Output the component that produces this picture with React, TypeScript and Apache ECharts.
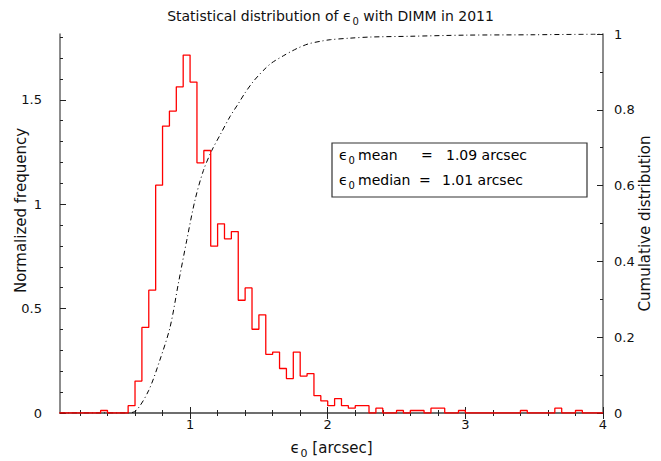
import React, { useEffect, useRef } from "react";
import * as echarts from "echarts";

// Histogram bin edges (arcsec) and normalized frequency of each bin
const binEdges = [
  0.05, 0.1, 0.15, 0.2, 0.25, 0.3, 0.35, 0.4, 0.45, 0.5,
  0.55, 0.6, 0.65, 0.7, 0.75, 0.8, 0.85, 0.9, 0.95, 1.0,
  1.05, 1.1, 1.15, 1.2, 1.25, 1.3, 1.35, 1.4, 1.45, 1.5,
  1.55, 1.6, 1.65, 1.7, 1.75, 1.8, 1.85, 1.9, 1.95, 2.0,
  2.05, 2.1, 2.15, 2.2, 2.25, 2.3, 2.35, 2.4, 2.45, 2.5,
  2.55, 2.6, 2.65, 2.7, 2.75, 2.8, 2.85, 2.9, 2.95, 3.0,
  3.05, 3.1, 3.15, 3.2, 3.25, 3.3, 3.35, 3.4, 3.45, 3.5,
  3.55, 3.6, 3.65, 3.7, 3.75, 3.8, 3.85, 3.9, 3.95, 4.0,
];
const frequency = [
  0, 0, 0, 0, 0, 0, 0.012, 0, 0, 0,
  0.035, 0.153, 0.41, 0.588, 1.091, 1.374, 1.446, 1.562, 1.714, 1.585,
  1.198, 1.257, 0.799, 0.906, 0.834, 0.869, 0.54, 0.599, 0.401, 0.47,
  0.281, 0.292, 0.213, 0.165, 0.292, 0.177, 0.189, 0.083, 0.058, 0.035,
  0.069, 0.035, 0.023, 0.035, 0.035, 0, 0.023, 0, 0, 0.012,
  0, 0.012, 0.012, 0, 0.023, 0.023, 0, 0, 0.012, 0,
  0, 0, 0, 0, 0, 0, 0, 0.012, 0, 0,
  0, 0, 0.023, 0, 0, 0.012, 0, 0, 0,
];

// Cumulative distribution (right axis)
const cumX = [
  0.055, 0.55, 0.61, 0.7, 0.78, 0.855, 0.915, 0.976, 1.036, 1.097,
  1.157, 1.22, 1.29, 1.35, 1.4, 1.46, 1.53, 1.59, 1.68, 1.74,
  1.79, 1.86, 1.95, 2.02, 2.16, 2.31, 2.6, 3.0, 3.5, 4.0,
];
const cumY = [
  0, 0, 0.007, 0.06, 0.139, 0.227, 0.342, 0.456, 0.562, 0.64,
  0.692, 0.735, 0.782, 0.816, 0.845, 0.875, 0.903, 0.923, 0.943, 0.955,
  0.964, 0.974, 0.981, 0.985, 0.989, 0.992, 0.994, 0.997, 0.998, 1.0,
];

// Ticks
const xMajor = [1, 2, 3, 4];
const xMinor = [0.2, 0.4, 0.6, 0.8, 1.2, 1.4, 1.6, 1.8, 2.2, 2.4, 2.6, 2.8, 3.2, 3.4, 3.6, 3.8];
const yFreqMajor = [0, 0.5, 1, 1.5];
const yFreqMinor = [0.1, 0.2, 0.3, 0.4, 0.6, 0.7, 0.8, 0.9, 1.1, 1.2, 1.3, 1.4, 1.6, 1.7, 1.8];
const yCumMajor = [0, 0.2, 0.4, 0.6, 0.8, 1];
const yCumMinor = [0.1, 0.3, 0.5, 0.7, 0.9];

const meanText = "1.09 arcsec";
const medianText = "1.01 arcsec";

const X_MIN = 0.055;
const X_MAX = 4;
const Y_MAX = 1.815;

const FONT = "DejaVu Sans, Liberation Sans, sans-serif";
const TEXT = "#111";
const AXIS = "#666";

function rich(fs: number, sub: number, drop: number) {
  return {
    t: { fontSize: fs, fontFamily: FONT, fontWeight: "normal", color: TEXT, verticalAlign: "top", lineHeight: fs + 2 },
    s: {
      fontSize: sub,
      fontFamily: FONT,
      fontWeight: "normal",
      color: TEXT,
      verticalAlign: "top",
      lineHeight: sub + 1,
      padding: [drop, 0, 0, 1],
    },
  };
}

export default function App() {
  const ref = useRef<HTMLDivElement>(null);

  useEffect(() => {
    if (!ref.current) return;
    const chart = echarts.init(ref.current, null, { renderer: "svg" });

    const histData: number[][] = binEdges.map((e, i) => [
      e,
      i < frequency.length ? frequency[i] : frequency[frequency.length - 1],
    ]);
    const cumData: number[][] = cumX.map((x, i) => [x, cumY[i]]);

    const labelStyle = { color: TEXT, fontSize: 13, fontFamily: FONT };

    const xBase = (position: string) => ({
      type: "value",
      min: X_MIN,
      max: X_MAX,
      position,
      splitLine: { show: false },
    });

    const option: any = {
      animation: false,
      backgroundColor: "#fff",
      title: {
        text: "{t|Statistical distribution of ϵ}{s|0}{t| with DIMM in 2011}",
        left: "center",
        top: 4,
        textStyle: { fontWeight: "normal", rich: rich(14, 10, 7) },
      },
      grid: { left: 60, right: 58, top: 34, bottom: 48, containLabel: false, outerBoundsMode: "none" },
      xAxis: [
        {
          ...xBase("bottom"),
          axisLine: { show: true, lineStyle: { color: AXIS, width: 1.5 } },
          axisTick: { show: true, inside: true, length: 6, customValues: xMajor, lineStyle: { color: "#222" } },
          axisLabel: { show: true, customValues: xMajor, margin: 5, ...labelStyle },
          name: "{t|ϵ}{s|0}{t| [arcsec]}",
          nameLocation: "middle",
          nameGap: 27,
          nameMoveOverlap: false,
          nameTextStyle: { rich: rich(15, 11, 8) },
        },
        {
          ...xBase("bottom"),
          axisLine: { show: false },
          axisTick: { show: true, inside: true, length: 3, customValues: xMinor, lineStyle: { color: "#222" } },
          axisLabel: { show: false },
        },
        {
          ...xBase("top"),
          axisLine: { show: true, lineStyle: { color: AXIS, width: 1.5 } },
          axisTick: { show: true, inside: true, length: 6, customValues: xMajor, lineStyle: { color: "#222" } },
          axisLabel: { show: false },
        },
        {
          ...xBase("top"),
          axisLine: { show: false },
          axisTick: { show: true, inside: true, length: 3, customValues: xMinor, lineStyle: { color: "#222" } },
          axisLabel: { show: false },
        },
      ],
      yAxis: [
        {
          type: "value",
          min: 0,
          max: Y_MAX,
          position: "left",
          splitLine: { show: false },
          axisLine: { show: true, lineStyle: { color: AXIS, width: 1.5 } },
          axisTick: { show: true, inside: true, length: 6, customValues: yFreqMajor, lineStyle: { color: "#222" } },
          axisLabel: { show: true, customValues: yFreqMajor, margin: 18, ...labelStyle },
          name: "Normalized frequency",
          nameLocation: "middle",
          nameGap: 32,
          nameRotate: 90,
          nameMoveOverlap: false,
          nameTextStyle: { color: TEXT, fontSize: 15, fontFamily: FONT, padding: [0, 0, 0, 26] },
        },
        {
          type: "value",
          min: 0,
          max: Y_MAX,
          position: "left",
          splitLine: { show: false },
          axisLine: { show: false },
          axisTick: { show: true, inside: true, length: 3, customValues: yFreqMinor, lineStyle: { color: "#222" } },
          axisLabel: { show: false },
        },
        {
          type: "value",
          min: 0,
          max: 1,
          position: "right",
          splitLine: { show: false },
          axisLine: { show: true, lineStyle: { color: AXIS, width: 1.5 } },
          axisTick: { show: true, inside: true, length: 6, customValues: yCumMajor, lineStyle: { color: "#222" } },
          axisLabel: { show: true, customValues: yCumMajor, margin: 11, ...labelStyle },
          name: "Cumulative distribution",
          nameLocation: "middle",
          nameGap: 34,
          nameRotate: 90,
          nameMoveOverlap: false,
          nameTextStyle: { color: TEXT, fontSize: 15, fontFamily: FONT },
        },
        {
          type: "value",
          min: 0,
          max: 1,
          position: "right",
          splitLine: { show: false },
          axisLine: { show: false },
          axisTick: { show: true, inside: true, length: 3, customValues: yCumMinor, lineStyle: { color: "#222" } },
          axisLabel: { show: false },
        },
      ],
      series: [
        {
          name: "Normalized frequency",
          type: "line",
          xAxisIndex: 0,
          yAxisIndex: 0,
          step: "end",
          data: histData,
          showSymbol: false,
          lineStyle: { color: "#ff0000", width: 1.3 },
          z: 3,
        },
        {
          name: "Cumulative distribution",
          type: "line",
          xAxisIndex: 0,
          yAxisIndex: 2,
          data: cumData,
          smooth: 0.3,
          showSymbol: false,
          lineStyle: { color: "#000", width: 1, type: [5, 3, 1, 3] },
          z: 2,
        },
      ],
      graphic: [
        {
          type: "rect",
          z: 10,
          shape: { x: 332, y: 143, width: 255, height: 54 },
          style: { fill: "#fff", stroke: "#333", lineWidth: 1.2 },
        },
        { type: "text", z: 11, x: 339, y: 148, style: { text: "{t|ϵ}{s|0}", rich: rich(14, 10, 7), verticalAlign: "top" } },
        { type: "text", z: 11, x: 358, y: 148, style: { text: "{t|mean}", rich: rich(14, 10, 7), verticalAlign: "top" } },
        { type: "text", z: 11, x: 421, y: 148, style: { text: "{t|=}", rich: rich(14, 10, 7), verticalAlign: "top" } },
        { type: "text", z: 11, x: 446, y: 148, style: { text: "{t|" + meanText + "}", rich: rich(14, 10, 7), verticalAlign: "top" } },
        { type: "text", z: 11, x: 339, y: 173, style: { text: "{t|ϵ}{s|0}", rich: rich(14, 10, 7), verticalAlign: "top" } },
        { type: "text", z: 11, x: 358, y: 173, style: { text: "{t|median}", rich: rich(14, 10, 7), verticalAlign: "top" } },
        { type: "text", z: 11, x: 419, y: 173, style: { text: "{t|=}", rich: rich(14, 10, 7), verticalAlign: "top" } },
        { type: "text", z: 11, x: 442, y: 173, style: { text: "{t|" + medianText + "}", rich: rich(14, 10, 7), verticalAlign: "top" } },
      ],
    };

    chart.setOption(option);
    return () => chart.dispose();
  }, []);

  return (
    <div
      ref={ref}
      style={{ position: "fixed", left: 0, top: 0, width: 661, height: 461, background: "#fff" }}
    />
  );
}
